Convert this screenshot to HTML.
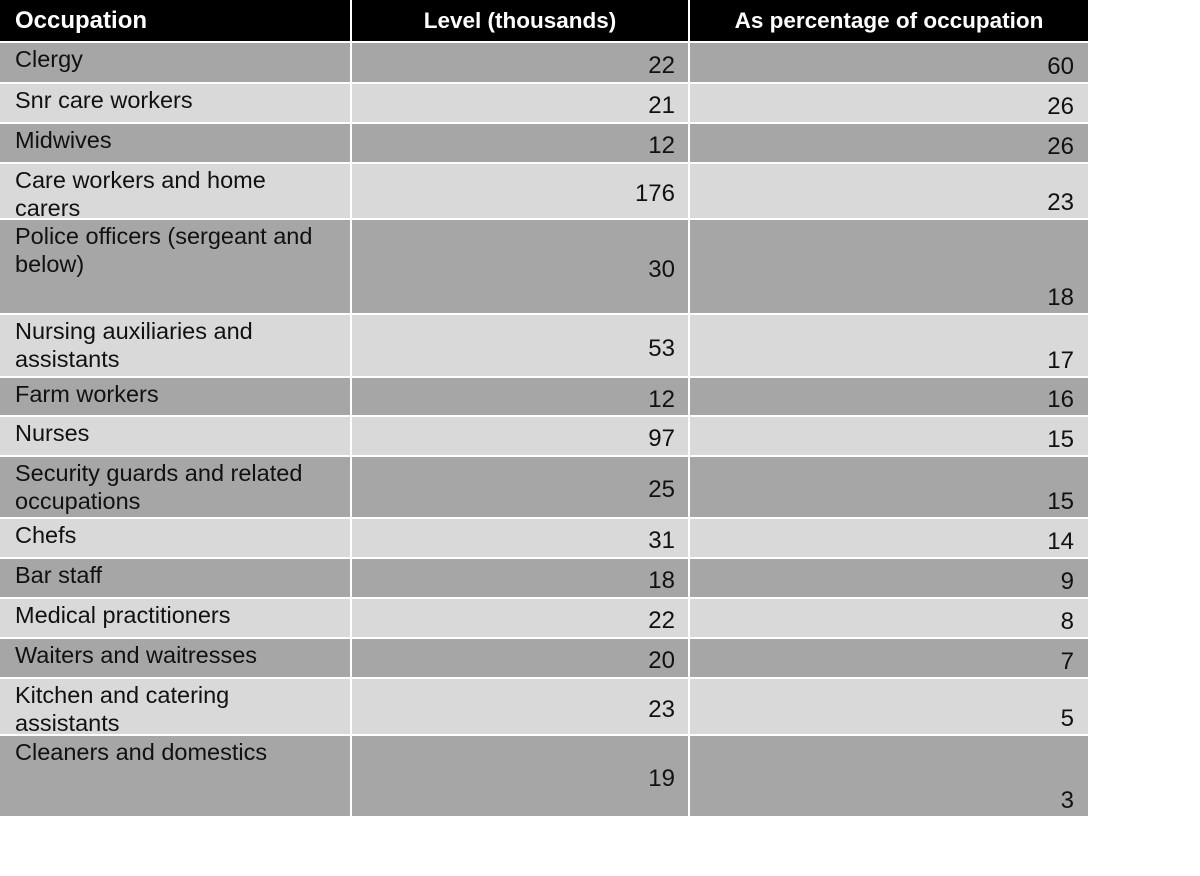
<!DOCTYPE html>
<html><head><meta charset="utf-8"><style>
body{margin:0;width:1200px;height:876px;background:#fff;position:relative;overflow:hidden}
.c{position:absolute;box-sizing:border-box}
.h{background:#000;color:#fff;font:bold 22.5px "Liberation Sans",sans-serif;top:0;height:41px;line-height:42px}
.t{font:23.5px "Liberation Sans",sans-serif;color:#111;padding:2px 0 0 15px;line-height:28px;white-space:nowrap}
.n{font:24px "Liberation Sans",sans-serif;color:#111;text-align:right;padding-right:13px}
</style></head><body>
<div class="c h" style="left:0;width:350px;padding-left:15px;font-size:24px">Occupation</div>
<div class="c h" style="left:352px;width:336px;text-align:center">Level (thousands)</div>
<div class="c h" style="left:690px;width:398px;text-align:center">As percentage of occupation</div>
<div id="rows"></div>
<script>
var b=[41,82,122,162,218,313,376,415,455,517,557,597,637,677,734,816];
var d=[["Clergy",22,60],["Snr care workers",21,26],["Midwives",12,26],["Care workers and home<br>carers",176,23],["Police officers (sergeant and<br>below)",30,18],["Nursing auxiliaries and<br>assistants",53,17],["Farm workers",12,16],["Nurses",97,15],["Security guards and related<br>occupations",25,15],["Chefs",31,14],["Bar staff",18,9],["Medical practitioners",22,8],["Waiters and waitresses",20,7],["Kitchen and catering<br>assistants",23,5],["Cleaners and domestics",19,3]];
var h="";
for(var i=0;i<15;i++){var t=b[i]+2,H=b[i+1]-t,bg=i%2?"#d9d9d9":"#a6a6a6";
h+='<div class="c t" style="left:0;width:350px;top:'+t+'px;height:'+H+'px;background:'+bg+'">'+d[i][0]+'</div>';
h+='<div class="c n" style="left:352px;width:336px;top:'+t+'px;height:'+H+'px;line-height:'+(H+6)+'px;background:'+bg+'">'+d[i][1]+'</div>';
h+='<div class="c n" style="left:690px;width:398px;top:'+t+'px;height:'+H+'px;background:'+bg+'"><span style="position:absolute;right:14px;bottom:0px;line-height:30px">'+d[i][2]+'</span></div>';}
document.getElementById("rows").innerHTML=h;
</script>
</body></html>
